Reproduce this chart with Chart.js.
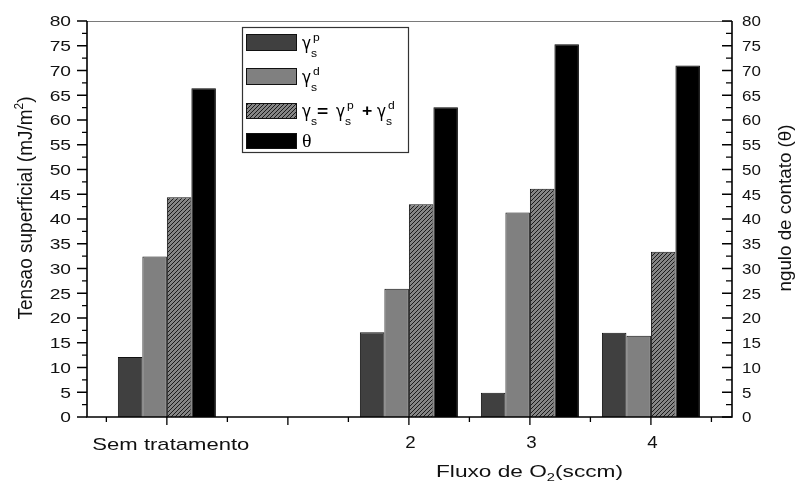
<!DOCTYPE html>
<html><head><meta charset="utf-8">
<script src="https://cdn.jsdelivr.net/npm/chart.js@4"></script>
<style>html,body{margin:0;padding:0;background:#fff}canvas{display:block}</style>
</head><body>
<canvas id="c" width="795" height="482"></canvas>
<script>
// ---- data ----
const categories = ['Sem tratamento', '', '2', '3', '4'];
const gammaP = [12.1, null, 17.1, 4.9, 17.0];
const gammaD = [32.4, null, 25.9, 41.3, 16.4];
const gammaS = [44.4, null, 43.0, 46.1, 33.4];
const theta  = [66.4, null, 62.6, 75.3, 71.0];
const yTickLabels = ['0','5','10','15','20','25','30','35','40','45','50','55','60','65','70','75','80'];
const seriesLabels = ['γs p', 'γs d', 'γs = γs p + γs d', 'θ'];

function pts(arr){ return categories.map((c,i)=> arr[i]==null ? null : {x:i, y:arr[i]}).filter(Boolean); }

function makeHatch(){
  const s=4, c=document.createElement('canvas'); c.width=s; c.height=s;
  const g=c.getContext('2d');
  g.fillStyle='#858585'; g.fillRect(0,0,s,s);
  g.strokeStyle='#1a1a1a'; g.lineWidth=1;
  g.beginPath();
  g.moveTo(-1,s+1); g.lineTo(s+1,-1);
  g.moveTo(-1,1); g.lineTo(1,-1);
  g.moveTo(s-1,s+1); g.lineTo(s+1,s-1);
  g.stroke();
  return g.createPattern(c,'repeat');
}
const hatch = makeHatch();
const COL_P='#404040', COL_D='#808080', COL_T='#000000';

function fitText(ctx, txt, font, x, y, w, align, sx){
  ctx.save(); ctx.font=font;
  const m=ctx.measureText(txt).width;
  const s = w ? w/m : (sx||1);
  const W = m*s;
  const x0 = align==='center' ? x-W/2 : align==='right' ? x-W : x;
  ctx.translate(x0,y); ctx.scale(s,1);
  ctx.textAlign='left'; ctx.textBaseline='alphabetic';
  ctx.fillText(txt,0,0); ctx.restore();
}
// parts: [{t, f(font), dy}] ; draws along local x starting at 0
function richWidth(ctx, parts){ let w=0; for(const p of parts){ ctx.font=p.f; w+=ctx.measureText(p.t).width; } return w; }
function richDraw(ctx, parts){ let x=0; for(const p of parts){ ctx.font=p.f; ctx.fillText(p.t,x,p.dy||0); x+=ctx.measureText(p.t).width; } }

const deco = {
  id:'deco',
  afterDraw(chart){
    const ctx=chart.ctx, a=chart.chartArea, xs=chart.scales.x, ys=chart.scales.y, y1=chart.scales.y1;
    ctx.save();
    ctx.fillStyle='#000'; ctx.strokeStyle='#000';
    // top border
    ctx.strokeStyle='#7a7a7a'; ctx.lineWidth=1.2;
    ctx.beginPath(); ctx.moveTo(a.left,a.top+0.5); ctx.lineTo(a.right,a.top+0.5); ctx.stroke();
    ctx.strokeStyle='#000'; ctx.lineWidth=1.6;
    ctx.beginPath();
    ctx.moveTo(a.left,a.top); ctx.lineTo(a.left,a.bottom); ctx.lineTo(a.right,a.bottom); ctx.lineTo(a.right,a.top);
    ctx.stroke();
    // y ticks
    ctx.lineWidth=1.3;
    ctx.beginPath();
    yTickLabels.forEach((lab,i)=>{
      const v=Number(lab);
      const p=ys.getPixelForValue(v);
      ctx.moveTo(a.left-10,p); ctx.lineTo(a.left,p);
      ctx.moveTo(a.right-10,p); ctx.lineTo(a.right,p);
      if(i<yTickLabels.length-1){
        const q=ys.getPixelForValue(v+2.5);
        ctx.moveTo(a.left-5,q); ctx.lineTo(a.left,q);
        ctx.moveTo(a.right-6,q); ctx.lineTo(a.right,q);
      }
    });
    // x ticks
    categories.forEach((c,i)=>{
      const p=xs.getPixelForValue(i);
      ctx.moveTo(p,a.bottom); ctx.lineTo(p,a.bottom+8);
      const m1=xs.getPixelForValue(i-0.5);
      ctx.moveTo(m1,a.bottom); ctx.lineTo(m1,a.bottom+5);
    });
    const mlast=xs.getPixelForValue(categories.length-0.5);
    ctx.moveTo(mlast,a.bottom); ctx.lineTo(mlast,a.bottom+5);
    ctx.stroke();

    // y tick labels
    ctx.fillStyle='#111';
    yTickLabels.forEach(lab=>{
      const p=ys.getPixelForValue(Number(lab));
      fitText(ctx, lab, '15px "Liberation Sans", Arial', a.left-16, p+5.4, null, 'right', 1.28);
      const q=y1.getPixelForValue(Number(lab));
      fitText(ctx, lab, '15px "Liberation Sans", Arial', a.right+10, q+5.4, null, 'left', 1.13);
    });
    // x tick labels
    categories.forEach((c,i)=>{
      if(!c) return;
      const p=xs.getPixelForValue(i);
      if(c.length>3) fitText(ctx, c, '17px "Liberation Sans", Arial', p+4, 450, 157, 'center');
      else fitText(ctx, c, '17px "Liberation Sans", Arial', p+1.5, 448, null, 'center', 1.1);
    });
    // x title
    {
      const F='17px "Liberation Sans", Arial', f='11px "Liberation Sans", Arial';
      const parts=[{t:'Fluxo de O',f:F},{t:'2',f:f,dy:4},{t:'(sccm)',f:F}];
      const w=richWidth(ctx,parts), s=187/w;
      ctx.save(); ctx.translate(436,477); ctx.scale(s,1); ctx.textAlign='left'; ctx.textBaseline='alphabetic'; richDraw(ctx,parts); ctx.restore();
    }
    // left title
    {
      const F='16px "Liberation Sans", Arial', f='10px "Liberation Sans", Arial';
      const parts=[{t:'Tensao superficial (mJ/m',f:F},{t:'2',f:f,dy:-7},{t:')',f:F}];
      const w=richWidth(ctx,parts), s=223/w;
      ctx.save(); ctx.translate(32,208); ctx.rotate(-Math.PI/2); ctx.scale(s,1.3);
      ctx.translate(-w/2,0); ctx.textAlign='left'; ctx.textBaseline='alphabetic'; richDraw(ctx,parts); ctx.restore();
    }
    // right title
    {
      const F='15px "Liberation Sans", Arial';
      const parts=[{t:'ngulo de contato (θ)',f:F}];
      const w=richWidth(ctx,parts), s=167/w;
      ctx.save(); ctx.translate(791,208); ctx.rotate(-Math.PI/2); ctx.scale(s,1.2);
      ctx.translate(-w/2,0); ctx.textAlign='left'; ctx.textBaseline='alphabetic'; richDraw(ctx,parts); ctx.restore();
    }
    // legend
    {
      ctx.fillStyle='#fff'; ctx.fillRect(242,27,167,126);
      ctx.strokeStyle='#333'; ctx.lineWidth=1.2; ctx.strokeRect(242.5,27.5,166,125);
      const sw=[[34,51,COL_P],[68,85,COL_D],[103,119,hatch],[133,149,COL_T]];
      sw.forEach(([t,b,c])=>{ ctx.fillStyle=c; ctx.fillRect(246,t,51,b-t); ctx.strokeStyle='#111'; ctx.lineWidth=1; ctx.strokeRect(246.5,t+0.5,50,b-t-1); });
      ctx.fillStyle='#000'; ctx.textAlign='left'; ctx.textBaseline='alphabetic';
      const G='18px "DejaVu Sans", "Liberation Sans", Arial', S='11px "Liberation Sans", Arial';
      const gam=(x,c,sup)=>{
        fitText(ctx,'γ',G,x,c+6,null,'left',0.85);
        fitText(ctx,'s',S,x+9,c+14,null,'left',1.1);
        if(sup) fitText(ctx,sup,S,x+11,c-2,null,'left',1.1);
      };
      gam(302,42.5,'p');
      gam(302,76.5,'d');
      const c3=111;
      gam(302,c3,null);
      fitText(ctx,'=','bold 16px "Liberation Sans", Arial',317,c3+6,null,'left',1.2);
      gam(336,c3,'p');
      fitText(ctx,'+','bold 16px "Liberation Sans", Arial',362,c3+5,null,'left',1.1);
      gam(377,c3,'d');
      fitText(ctx,'θ','19px "Liberation Serif", serif',302,147,null,'left',1.05);
    }
    ctx.restore();
  }
};

new Chart(document.getElementById('c'), {
  type:'bar',
  data:{
    datasets:[
      {label:seriesLabels[0], data:pts(gammaP), backgroundColor:COL_P, borderColor:'#111', borderWidth:1, yAxisID:'y'},
      {label:seriesLabels[1], data:pts(gammaD), backgroundColor:COL_D, borderColor:'#111', borderWidth:1, yAxisID:'y'},
      {label:seriesLabels[2], data:pts(gammaS), backgroundColor:hatch, borderColor:'#111', borderWidth:1, yAxisID:'y'},
      {label:seriesLabels[3], data:pts(theta), backgroundColor:COL_T, borderColor:'#000', borderWidth:1, yAxisID:'y1'}
    ]
  },
  options:{
    responsive:false, animation:false, devicePixelRatio:1,
    layout:{padding:{top:21,left:0,right:0,bottom:0}},
    plugins:{legend:{display:false}, tooltip:{enabled:false}},
    datasets:{bar:{categoryPercentage:0.81, barPercentage:1.0, grouped:true}},
    scales:{
      x:{type:'linear', min:-0.66, max:4.67, offset:false,
         grid:{display:false, drawTicks:false}, border:{display:false}, ticks:{display:false},
         afterBuildTicks:(s)=>{ s.ticks = categories.map((c,i)=>({value:i})); },
         afterFit:(s)=>{ s.height=65; }},
      y:{position:'left', min:0, max:80, grid:{display:false, drawTicks:false}, border:{display:false}, ticks:{display:false},
         afterFit:(s)=>{ s.width=87; }},
      y1:{position:'right', min:0, max:80, grid:{display:false, drawTicks:false}, border:{display:false}, ticks:{display:false},
         afterFit:(s)=>{ s.width=63; }}
    }
  },
  plugins:[deco]
});
</script>
</body></html>
